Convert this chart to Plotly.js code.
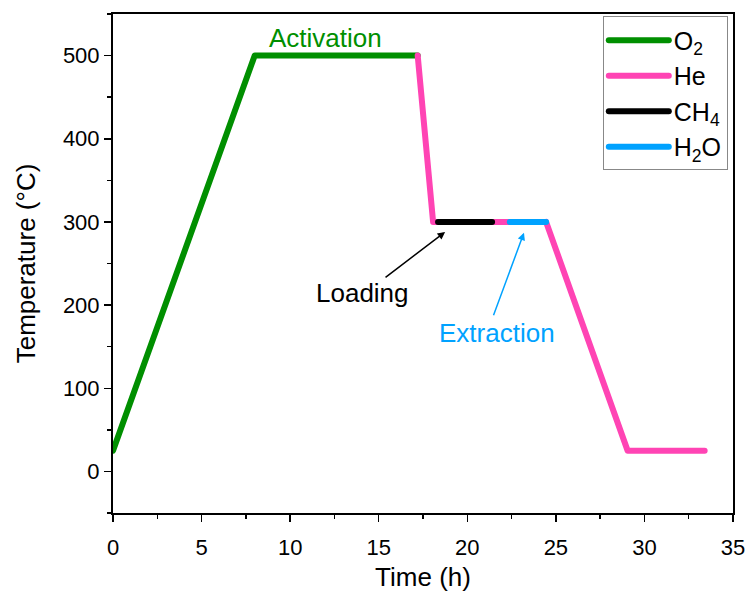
<!DOCTYPE html>
<html><head><meta charset="utf-8">
<script src="https://cdn.plot.ly/plotly-3.0.1.min.js"></script>
<style>body{margin:0;background:#fff}#c{width:747px;height:592px}
.scatterlayer path.js-line, .legend path.js-line{stroke-linecap:round;stroke-linejoin:round}</style>
</head><body><div id="c"></div>
<script>
// Data
const o2X = [0, 8, 17.2];
const o2Y = [25, 500, 500];
const heX = [17.2, 18.07, 18.35, null, 21.4, 22.4, null, 24.45, 29.05, 33.4];
const heY = [500, 300, 300, null, 300, 300, null, 300, 25, 25];
const ch4X = [18.35, 21.4];
const ch4Y = [300, 300];
const h2oX = [22.4, 24.45];
const h2oY = [300, 300];
const seriesNames = ['O<sub>2</sub>', 'He', 'CH<sub>4</sub>', 'H<sub>2</sub>O'];
const colors = ['#008f00', '#ff44b4', '#000000', '#00a2ff'];

const FONT = 'Liberation Sans, Arial, sans-serif';
const lw = 6;
const traces = [
  {x:o2X, y:o2Y, name:seriesNames[0], mode:'lines', line:{color:colors[0], width:lw}},
  {x:heX, y:heY, name:seriesNames[1], mode:'lines', line:{color:colors[1], width:lw}, connectgaps:false},
  {x:ch4X, y:ch4Y, name:seriesNames[2], mode:'lines', line:{color:colors[2], width:lw}},
  {x:h2oX, y:h2oY, name:seriesNames[3], mode:'lines', line:{color:colors[3], width:lw}}
];

const axisCommon = {
  showline:true, linecolor:'#000', linewidth:2, mirror:true,
  ticks:'outside', ticklen:7, tickwidth:1.5, tickcolor:'#000',
  showgrid:false, zeroline:false,
  tickfont:{family:FONT, size:22, color:'#000'},
  minor:{ticks:'outside', ticklen:4, tickwidth:1.5, tickcolor:'#000'}
};

const layout = {
  width:747, height:592,
  margin:{l:113, r:14, t:14, b:79},
  paper_bgcolor:'#fff', plot_bgcolor:'#fff',
  font:{family:FONT, color:'#000'},
  xaxis:Object.assign({}, axisCommon, {
    range:[0,35], tick0:0, dtick:5, minor:Object.assign({}, axisCommon.minor, {dtick:2.5}),
    ticklabelstandoff:7,
    title:{text:'Time (h)', font:{family:FONT, size:26}, standoff:8}
  }),
  yaxis:Object.assign({}, axisCommon, {
    range:[-50,550], tick0:0, dtick:100, minor:Object.assign({}, axisCommon.minor, {dtick:50}),
    title:{text:'Temperature (°C)', font:{family:FONT, size:26}, standoff:20}
  }),
  legend:{
    x:0.79, y:0.995, xanchor:'left', yanchor:'top',
    bordercolor:'#888', borderwidth:1, bgcolor:'#fff',
    font:{family:FONT, size:25, color:'#000'},
    itemwidth:60, tracegroupgap:0
  },
  annotations:[
    {x:12.0, y:521, text:'Activation', showarrow:false, font:{family:FONT, size:26, color:colors[0]}},
    {x:14.1, y:214, text:'Loading', showarrow:false, font:{family:FONT, size:26, color:'#000'}},
    {x:21.7, y:167, text:'Extraction', showarrow:false, font:{family:FONT, size:26, color:colors[3]}},
    {x:18.75, y:288, ax:15.3, ay:232, axref:'x', ayref:'y', xref:'x', yref:'y', text:'', showarrow:true,
     arrowhead:2, arrowsize:1, arrowwidth:1.5, arrowcolor:'#000'},
    {x:23.2, y:287, ax:21.45, ay:186, axref:'x', ayref:'y', xref:'x', yref:'y', text:'', showarrow:true,
     arrowhead:2, arrowsize:1, arrowwidth:1.5, arrowcolor:colors[3]}
  ]
};
Plotly.newPlot('c', traces, layout, {displayModeBar:false, staticPlot:true});
</script></body></html>
